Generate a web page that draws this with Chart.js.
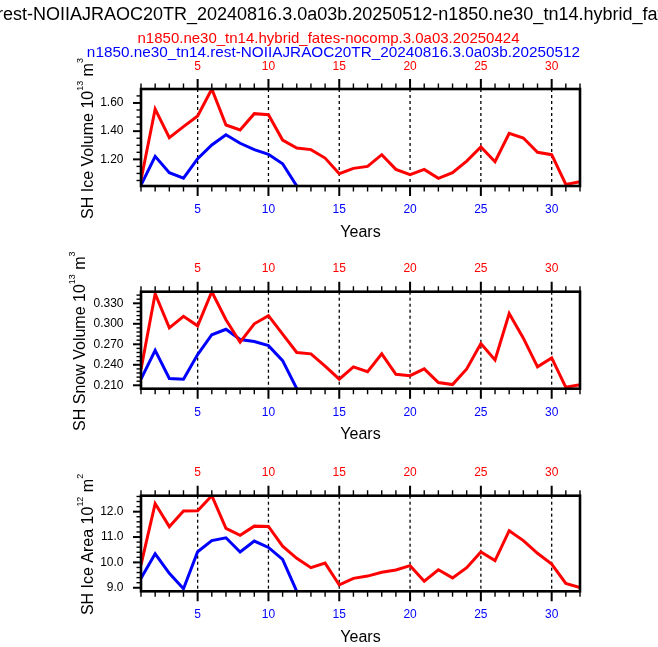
<!DOCTYPE html>
<html lang="en">
<head>
  <meta charset="UTF-8">
  <title>SH sea ice time series</title>
  <style>
    * { margin: 0; padding: 0; box-sizing: border-box; }
    body { width: 658px; height: 647px; overflow: hidden; background: #fff; }
    canvas { display: block; }
  </style>
  <script src="https://cdn.jsdelivr.net/npm/chart.js"></script>
</head>
<body>
  <canvas id="iceVol" width="658" height="250"></canvas>
  <canvas id="snowVol" width="658" height="205"></canvas>
  <canvas id="iceArea" width="658" height="192"></canvas>

  <script>
    // case names
    const redCase = 'n1850.ne30_tn14.hybrid_fates-nocomp.3.0a03.20250424';
    const blueCase = 'n1850.ne30_tn14.rest-NOIIAJRAOC20TR_20240816.3.0a03b.20250512';

    const years = [1, 2, 3, 4, 5, 6, 7, 8, 9, 10, 11, 12, 13, 14, 15, 16,
                   17, 18, 19, 20, 21, 22, 23, 24, 25, 26, 27, 28, 29, 30, 31, 32];
    const xMajor = [5, 10, 15, 20, 25, 30];

    // SH ice volume (10^13 m^3)
    const redIceVol = [1.053, 1.557, 1.354, 1.432, 1.508, 1.699, 1.444, 1.408, 1.524, 1.517, 1.337, 1.280,
                       1.269, 1.209, 1.098, 1.136, 1.150, 1.233, 1.129, 1.091, 1.129, 1.065, 1.105, 1.188,
                       1.288, 1.183, 1.385, 1.351, 1.250, 1.233, 1.022, 1.041];
    const blueIceVol = [1.018, 1.221, 1.105, 1.067, 1.205, 1.302, 1.375, 1.314, 1.269, 1.236, 1.169, 1.011];
    const iceVolTicks = [1.20, 1.40, 1.60];

    // SH snow volume (10^13 m^3)
    const redSnowVol = [0.233, 0.344, 0.294, 0.311, 0.297, 0.347, 0.306, 0.273, 0.300, 0.312, 0.285, 0.258,
                        0.256, 0.238, 0.219, 0.237, 0.230, 0.256, 0.226, 0.224, 0.234, 0.214, 0.211, 0.234,
                        0.271, 0.247, 0.315, 0.279, 0.237, 0.250, 0.207, 0.211];
    const blueSnowVol = [0.219, 0.261, 0.220, 0.219, 0.255, 0.284, 0.292, 0.277, 0.274, 0.268, 0.246, 0.205];
    const snowVolTicks = [0.210, 0.240, 0.270, 0.300, 0.330];

    // SH ice area (10^12 m^2)
    const redIceArea = [9.90, 12.32, 11.41, 12.03, 12.04, 12.63, 11.34, 11.07, 11.43, 11.42, 10.64, 10.16,
                        9.79, 9.97, 9.11, 9.37, 9.46, 9.61, 9.70, 9.87, 9.26, 9.71, 9.39, 9.79,
                        10.41, 10.07, 11.25, 10.86, 10.36, 9.93, 9.17, 9.01];
    const blueIceArea = [9.37, 10.34, 9.57, 8.96, 10.42, 10.86, 10.97, 10.41, 10.84, 10.59, 10.12, 8.86];
    const iceAreaTicks = [9.0, 10.0, 11.0, 12.0];

    const FONT = '"Liberation Sans", Arial, sans-serif';
    const RED = '#ff0000';
    const BLUE = '#0000ff';

    function fontStr(size) { return size + 'px ' + FONT; }

    // rotated y-axis title with superscripts
    function drawYTitle(ctx, parts, xBase, yMid, size) {
      ctx.save();
      ctx.translate(xBase, yMid);
      ctx.rotate(-Math.PI / 2);
      let total = 0;
      parts.forEach(p => {
        ctx.font = fontStr(p.sup ? size * 0.56 : size);
        total += ctx.measureText(p.t).width;
      });
      let cx = -total / 2;
      ctx.fillStyle = '#000';
      ctx.textAlign = 'left';
      ctx.textBaseline = 'alphabetic';
      parts.forEach(p => {
        ctx.font = fontStr(p.sup ? size * 0.56 : size);
        ctx.fillText(p.t, cx, p.sup ? -size * 0.64 : 0);
        cx += ctx.measureText(p.t).width;
      });
      ctx.restore();
    }

    function makeDeco(cfg) {
      return {
        id: 'deco_' + cfg.id,
        beforeDatasetsDraw(chart) {
          const { ctx, chartArea: a, scales } = chart;
          ctx.save();
          ctx.strokeStyle = '#000';
          ctx.lineWidth = 1.3;
          ctx.setLineDash([3, 3]);
          xMajor.forEach(v => {
            const px = scales.x.getPixelForValue(v);
            ctx.beginPath();
            ctx.moveTo(px, a.top);
            ctx.lineTo(px, a.bottom);
            ctx.stroke();
          });
          ctx.restore();
        },
        afterDatasetsDraw(chart) {
          const { ctx, chartArea: a, scales } = chart;
          const x = scales.x, y = scales.y;
          ctx.save();
          ctx.strokeStyle = '#000';
          ctx.lineCap = 'butt';
          // x ticks, top and bottom, outward
          years.forEach(v => {
            const major = xMajor.includes(v);
            const px = x.getPixelForValue(v);
            const len = major ? 10 : 5.5;
            ctx.lineWidth = major ? 2 : 1.4;
            ctx.beginPath();
            ctx.moveTo(px, a.bottom);
            ctx.lineTo(px, a.bottom + len);
            ctx.moveTo(px, a.top);
            ctx.lineTo(px, a.top - len);
            ctx.stroke();
          });
          // y ticks, left side, outward
          const ymin = y.min, ymax = y.max;
          const step = cfg.minorStep;
          const base = cfg.yTicks[0];
          const eps = step * 1e-3;
          for (let k = -50; k <= 200; k++) {
            const v = base + k * step;
            if (v < ymin - eps || v > ymax + eps) continue;
            const major = cfg.yTicks.some(t => Math.abs(t - v) < eps);
            const py = y.getPixelForValue(v);
            ctx.lineWidth = major ? 2 : 1.4;
            ctx.beginPath();
            ctx.moveTo(a.left, py);
            ctx.lineTo(a.left - (major ? 8 : 4.5), py);
            ctx.stroke();
          }
          // frame
          ctx.lineWidth = 2.6;
          ctx.strokeRect(a.left, a.top, a.right - a.left, a.bottom - a.top);
          ctx.restore();
        },
        afterDraw(chart) {
          const { ctx, chartArea: a } = chart;
          ctx.save();
          ctx.fillStyle = '#000';
          ctx.font = fontStr(16);
          ctx.textAlign = 'center';
          ctx.textBaseline = 'alphabetic';
          ctx.fillText('Years', (a.left + a.right) / 2, a.bottom + 50.5);
          ctx.restore();
          drawYTitle(ctx, cfg.yTitle, cfg.titleX, (a.top + a.bottom) / 2 + 1, 16);
          if (cfg.headers) {
            ctx.save();
            ctx.textAlign = 'left';
            ctx.textBaseline = 'alphabetic';
            ctx.font = fontStr(18);
            ctx.fillStyle = '#000';
            const lead = ctx.measureText('n1850.ne30_tn14.').width;
            ctx.fillText(blueCase + '-' + redCase, -3 - lead, 20);
            ctx.textAlign = 'center';
            ctx.font = fontStr(15);
            ctx.fillStyle = RED;
            ctx.fillText(redCase, 328.5, 43.3);
            ctx.font = fontStr(15.3);
            ctx.fillStyle = BLUE;
            ctx.fillText(blueCase, 333.5, 56.7);
            ctx.restore();
          }
        }
      };
    }

    function makePanel(cfg) {
      const all = cfg.red.concat(cfg.blue);
      const yMin = Math.min(...all), yMax = Math.max(...all);
      const xAxis = (pos, color, size) => ({
        type: 'linear',
        position: pos,
        min: years[0],
        max: years[years.length - 1],
        afterBuildTicks: s => { s.ticks = xMajor.map(v => ({ value: v })); },
        afterFit: s => { s.height = size; },
        grid: { display: false, drawTicks: false },
        border: { display: false },
        ticks: {
          color: color,
          font: { family: FONT, size: 12 },
          padding: pos === 'top' ? 15.5 : 16.3,
          maxRotation: 0,
          autoSkip: false
        }
      });
      new Chart(document.getElementById(cfg.id), {
        type: 'line',
        data: {
          datasets: [
            {
              data: cfg.red.map((v, i) => ({ x: years[i], y: v })),
              borderColor: RED, borderWidth: 3, pointRadius: 0, tension: 0, fill: false
            },
            {
              data: cfg.blue.map((v, i) => ({ x: years[i], y: v })),
              borderColor: BLUE, borderWidth: 3, pointRadius: 0, tension: 0, fill: false
            }
          ]
        },
        options: {
          responsive: false,
          animation: false,
          layout: { padding: { left: 0, right: 78, top: 0, bottom: 0 } },
          plugins: { legend: { display: false }, tooltip: { enabled: false } },
          scales: {
            x: xAxis('bottom', BLUE, cfg.bottomH),
            x2: xAxis('top', RED, cfg.topH),
            y: {
              type: 'linear',
              position: 'left',
              min: yMin,
              max: yMax,
              afterBuildTicks: s => { s.ticks = cfg.yTicks.map(v => ({ value: v })); },
              afterFit: s => { s.width = 141; },
              grid: { display: false, drawTicks: false },
              border: { display: false },
              ticks: {
                color: '#000',
                font: { family: FONT, size: 12 },
                padding: 17.5,
                callback: v => Number(v).toFixed(cfg.decimals)
              }
            }
          }
        },
        plugins: [makeDeco(cfg)]
      });
    }

    makePanel({
      id: 'iceVol', red: redIceVol, blue: blueIceVol, yTicks: iceVolTicks, decimals: 2,
      minorStep: 0.05, topH: 89, bottomH: 64, titleX: 93, headers: true,
      yTitle: [{ t: 'SH Ice Volume 10' }, { t: '13', sup: true }, { t: ' m' }, { t: '3', sup: true }]
    });
    makePanel({
      id: 'snowVol', red: redSnowVol, blue: blueSnowVol, yTicks: snowVolTicks, decimals: 3,
      minorStep: 0.006, topH: 41.7, bottomH: 66.3, titleX: 85,
      yTitle: [{ t: 'SH Snow Volume 10' }, { t: '13', sup: true }, { t: ' m' }, { t: '3', sup: true }]
    });
    makePanel({
      id: 'iceArea', red: redIceArea, blue: blueIceArea, yTicks: iceAreaTicks, decimals: 1,
      minorStep: 0.2, topH: 40.7, bottomH: 55.7, titleX: 93,
      yTitle: [{ t: 'SH Ice Area 10' }, { t: '12', sup: true }, { t: ' m' }, { t: '2', sup: true }]
    });
  </script>
</body>
</html>
